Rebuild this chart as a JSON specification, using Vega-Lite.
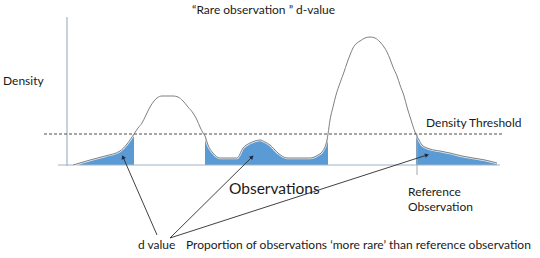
{
  "$schema": "https://vega.github.io/schema/vega-lite/v6.json",
  "width": 540,
  "height": 258,
  "autosize": {"type": "fit", "contains": "padding"},
  "padding": 0,
  "background": "white",
  "config": {"view": {"stroke": null}, "text": {"font": "Lato", "color": "#1a1a1a"}},
  "datasets": {
    "fill": [
      {"seg": "A", "x": 73, "d": 0}, {"seg": "A", "x": 90, "d": 5}, {"seg": "A", "x": 105, "d": 9}, {"seg": "A", "x": 120, "d": 14}, {"seg": "A", "x": 127, "d": 21}, {"seg": "A", "x": 134, "d": 31},
      {"seg": "B", "x": 205, "d": 31}, {"seg": "B", "x": 208, "d": 20}, {"seg": "B", "x": 213, "d": 12}, {"seg": "B", "x": 220, "d": 7}, {"seg": "B", "x": 237, "d": 7}, {"seg": "B", "x": 243, "d": 17}, {"seg": "B", "x": 250, "d": 22}, {"seg": "B", "x": 255, "d": 24}, {"seg": "B", "x": 260, "d": 25}, {"seg": "B", "x": 265, "d": 23}, {"seg": "B", "x": 270, "d": 20}, {"seg": "B", "x": 278, "d": 12}, {"seg": "B", "x": 287, "d": 7}, {"seg": "B", "x": 310, "d": 7}, {"seg": "B", "x": 318, "d": 10}, {"seg": "B", "x": 322, "d": 13}, {"seg": "B", "x": 327, "d": 25}, {"seg": "B", "x": 328, "d": 31},
      {"seg": "C", "x": 416, "d": 32}, {"seg": "C", "x": 419, "d": 25}, {"seg": "C", "x": 422, "d": 20}, {"seg": "C", "x": 430, "d": 16}, {"seg": "C", "x": 440, "d": 14}, {"seg": "C", "x": 450, "d": 12}, {"seg": "C", "x": 462, "d": 9}, {"seg": "C", "x": 473, "d": 7}, {"seg": "C", "x": 485, "d": 5}, {"seg": "C", "x": 497, "d": 2}
    ],
    "curve": [
      {"x": 73, "d": 0}, {"x": 90, "d": 5}, {"x": 105, "d": 9}, {"x": 120, "d": 14}, {"x": 127, "d": 21}, {"x": 134, "d": 31},
      {"x": 138, "d": 37}, {"x": 142, "d": 42}, {"x": 146, "d": 50}, {"x": 150, "d": 58}, {"x": 154, "d": 64}, {"x": 157, "d": 67}, {"x": 162, "d": 69}, {"x": 167, "d": 69}, {"x": 173, "d": 69}, {"x": 178, "d": 68}, {"x": 183, "d": 64}, {"x": 188, "d": 58}, {"x": 193, "d": 52}, {"x": 197, "d": 45}, {"x": 200, "d": 38}, {"x": 203, "d": 32},
      {"x": 205, "d": 29}, {"x": 208, "d": 20}, {"x": 213, "d": 12}, {"x": 220, "d": 7}, {"x": 237, "d": 7}, {"x": 243, "d": 17}, {"x": 250, "d": 22}, {"x": 255, "d": 24}, {"x": 260, "d": 25}, {"x": 265, "d": 23}, {"x": 270, "d": 20}, {"x": 278, "d": 12}, {"x": 287, "d": 7}, {"x": 310, "d": 7}, {"x": 318, "d": 10}, {"x": 322, "d": 13}, {"x": 327, "d": 25}, {"x": 328, "d": 31},
      {"x": 330, "d": 45}, {"x": 333, "d": 58}, {"x": 336, "d": 70}, {"x": 340, "d": 82}, {"x": 344, "d": 93}, {"x": 347, "d": 102}, {"x": 350, "d": 110}, {"x": 353, "d": 117}, {"x": 357, "d": 122}, {"x": 360, "d": 124}, {"x": 365, "d": 127}, {"x": 370, "d": 128}, {"x": 375, "d": 127}, {"x": 380, "d": 123}, {"x": 384, "d": 118}, {"x": 387, "d": 113}, {"x": 390, "d": 106}, {"x": 393, "d": 98}, {"x": 397, "d": 89}, {"x": 400, "d": 80}, {"x": 404, "d": 69}, {"x": 407, "d": 58}, {"x": 411, "d": 45}, {"x": 415, "d": 33},
      {"x": 419, "d": 25}, {"x": 422, "d": 20}, {"x": 430, "d": 16}, {"x": 440, "d": 14}, {"x": 450, "d": 12}, {"x": 462, "d": 9}, {"x": 473, "d": 7}, {"x": 485, "d": 5}, {"x": 497, "d": 2}
    ],
    "axes": [
      {"x": 67, "x2": 67, "d": 148, "d2": -1},
      {"x": 58, "x2": 500, "d": 0, "d2": 0}
    ],
    "threshold": [{"x": 44, "x2": 502, "d": 31, "d2": 31}],
    "reference": [{"x": 417, "x2": 417, "d": 31, "d2": -10}],
    "arrows": [
      {"x": 157, "d": -70, "x2": 123, "d2": 8, "angle": 336.5},
      {"x": 170, "d": -73, "x2": 252, "d2": 8, "angle": 45.3},
      {"x": 170, "d": -73, "x2": 427, "d2": 10, "angle": 72.1}
    ],
    "labels": [
      {"text": "“Rare observation ” d-value", "x": 192, "d": 155},
      {"text": "Density", "x": 3, "d": 84},
      {"text": "Density Threshold", "x": 426, "d": 42},
      {"text": "Reference", "x": 408, "d": -27},
      {"text": "Observation", "x": 408, "d": -42},
      {"text": "d value", "x": 138, "d": -80},
      {"text": "Proportion of observations ‘more rare’ than reference observation", "x": 186, "d": -80}
    ],
    "big": [{"text": "Observations", "x": 229, "d": -24}]
  },
  "encoding": {
    "x": {"field": "x", "type": "quantitative", "scale": {"domain": [0, 540], "nice": false, "zero": false}, "axis": null},
    "y": {"field": "d", "type": "quantitative", "scale": {"domain": [-93, 165], "nice": false, "zero": false}, "axis": null}
  },
  "layer": [
    {
      "data": {"name": "fill"},
      "mark": {"type": "area", "color": "#5b9bd5", "opacity": 1, "interpolate": "monotone"},
      "encoding": {
        "x": {"field": "x", "type": "quantitative"},
        "y": {"field": "d", "type": "quantitative", "stack": null},
        "y2": {"datum": 0},
        "detail": {"field": "seg", "type": "nominal"}
      }
    },
    {
      "data": {"name": "axes"},
      "mark": {"type": "rule", "color": "#9fb4c9", "strokeWidth": 1.2},
      "encoding": {"x2": {"field": "x2"}, "y2": {"field": "d2"}}
    },
    {
      "data": {"name": "curve"},
      "mark": {"type": "line", "color": "#ffffff", "strokeWidth": 2.5, "interpolate": "monotone", "opacity": 0.8},
      "encoding": {"order": {"field": "x", "type": "quantitative"}}
    },
    {
      "data": {"name": "curve"},
      "mark": {"type": "line", "color": "#808080", "strokeWidth": 1, "interpolate": "monotone"},
      "encoding": {"order": {"field": "x", "type": "quantitative"}}
    },
    {
      "data": {"name": "threshold"},
      "mark": {"type": "rule", "color": "#4d4d4d", "strokeWidth": 1.2, "strokeDash": [3, 2]},
      "encoding": {"x2": {"field": "x2"}, "y2": {"field": "d2"}}
    },
    {
      "data": {"name": "reference"},
      "mark": {"type": "rule", "color": "#a6a6a6", "strokeWidth": 1},
      "encoding": {"x2": {"field": "x2"}, "y2": {"field": "d2"}}
    },
    {
      "data": {"name": "arrows"},
      "mark": {"type": "rule", "color": "#2b2b2b", "strokeWidth": 0.9},
      "encoding": {"x2": {"field": "x2"}, "y2": {"field": "d2"}}
    },
    {
      "data": {"name": "arrows"},
      "mark": {"type": "point", "shape": "triangle-up", "filled": true, "color": "#1f2a44", "size": 22, "opacity": 1},
      "encoding": {
        "x": {"field": "x2", "type": "quantitative"},
        "y": {"field": "d2", "type": "quantitative"},
        "angle": {"field": "angle", "type": "quantitative", "scale": null}
      }
    },
    {
      "data": {"name": "labels"},
      "mark": {"type": "text", "align": "left", "baseline": "middle", "fontSize": 12},
      "encoding": {"text": {"field": "text"}}
    },
    {
      "data": {"name": "big"},
      "mark": {"type": "text", "align": "left", "baseline": "middle", "fontSize": 15.5},
      "encoding": {"text": {"field": "text"}}
    }
  ]
}
